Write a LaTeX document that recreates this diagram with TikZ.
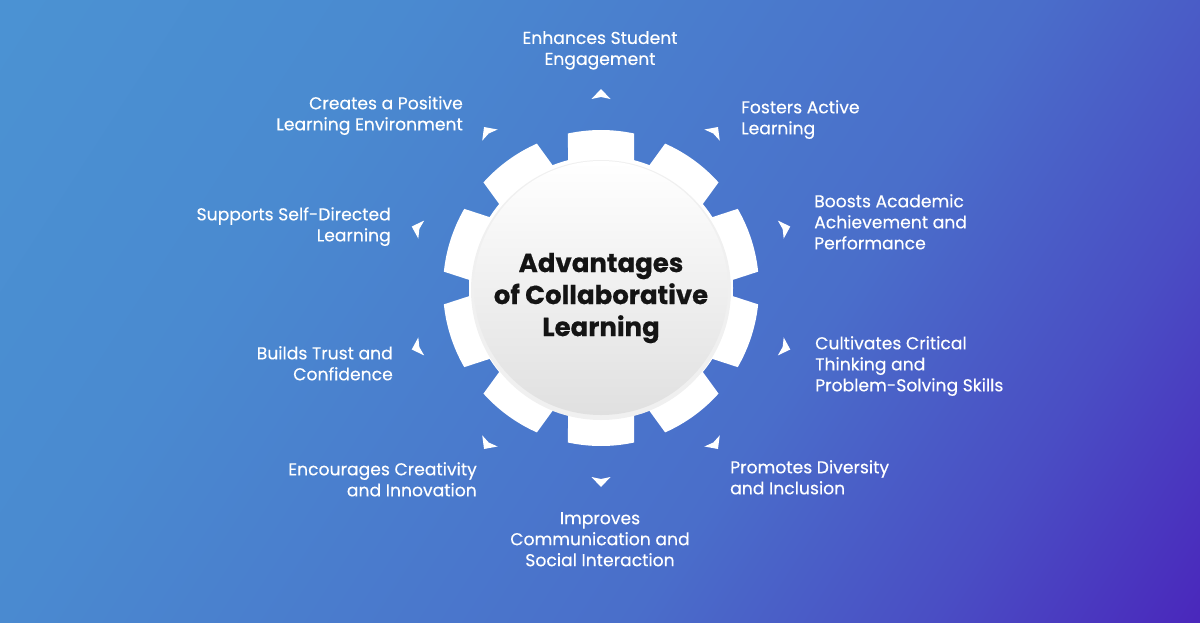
\documentclass[tikz,border=0pt]{standalone}
\usepackage{fontspec}
\setmainfont{Poppins}
\newfontfamily\benefitfont{Poppins}[FakeBold=0.3]
\newfontfamily\titlefont{Poppins}[BoldFeatures={FakeBold=0.5}]
\definecolor{bgLight}{HTML}{4B93D3}
\definecolor{bgSoft}{HTML}{4A8AD0}
\definecolor{bgMid}{HTML}{4A6ECA}
\definecolor{bgDeep}{HTML}{4A4EC4}
\definecolor{bgDark}{HTML}{4A28BC}
\definecolor{hubGray}{HTML}{E0E0E0}
\definecolor{titleInk}{HTML}{141414}
\pgfdeclareverticalshading{backdrop}{100bp}{color(0bp)=(bgDark); color(26bp)=(bgDark); color(34bp)=(bgDeep); color(43bp)=(bgMid); color(62bp)=(bgSoft); color(75bp)=(bgLight); color(100bp)=(bgLight)}
\tikzset{
  benefit/.style={text=white,inner sep=0pt,font=\benefitfont\fontsize{17.2}{21}\selectfont},
  heading/.style={text=titleInk,inner sep=0pt,align=center,font=\titlefont\fontsize{26}{32}\selectfont\bfseries},
  pointer/.style={fill=white},
  cog/.style={fill=white}
}
\begin{document}
\begin{tikzpicture}[x=1pt,y=1pt,line join=round]
	\useasboundingbox (0,0) rectangle (1200,-622);
	% background
	\begin{scope}
		\clip (0,0) rectangle (1200,-622);
		\shade[shading=backdrop,shading angle=57] (-100,389) rectangle (1300,-1011);
	\end{scope}
	% gear
	\coordinate (hub) at (601,-288);
	\begin{scope}[shift={(hub)}]
		\fill[cog] (0,0) circle (132);
		\foreach \k in {0,...,9}
			\fill[cog,rotate=90+36*\k] (120,-33) -- (-12.06:158) arc[start angle=-12.06,end angle=12.06,radius=158] -- (120,33) -- cycle;
		\fill[black,opacity=.06] (0,-2) circle (130);
		\shade[top color=white,bottom color=hubGray] (0,0) circle (127);
		\foreach \k in {0,...,9}
			\fill[pointer,rotate=90+36*\k] (199,0) -- (189,-9.5) -- (191,0) -- (189,9.5) -- cycle;
	\end{scope}
	\node[heading] (title) at (601,-298) {Advantages\\of Collaborative\\Learning};
	% benefits
	\node[benefit,align=center,anchor=north] (engage) at (600,-31) {Enhances Student\\Engagement};
	\node[benefit,align=left,anchor=north west] (active) at (741,-100) {Fosters Active\\Learning};
	\node[benefit,align=left,anchor=north west] (achieve) at (814,-194) {Boosts Academic\\Achievement and\\Performance};
	\node[benefit,align=left,anchor=north west] (critical) at (815,-336) {Cultivates Critical\\Thinking and\\Problem-Solving Skills};
	\node[benefit,align=left,anchor=north west] (divers) at (730,-460) {Promotes Diversity\\and Inclusion};
	\node[benefit,align=center,anchor=north] (commun) at (600,-512) {Improves\\Communication and\\Social Interaction};
	\node[benefit,align=right,anchor=north east] (create) at (477,-462) {Encourages Creativity\\and Innovation};
	\node[benefit,align=right,anchor=north east] (trust) at (393,-346) {Builds Trust and\\Confidence};
	\node[benefit,align=right,anchor=north east] (selfdir) at (391,-207) {Supports Self-Directed\\Learning};
	\node[benefit,align=right,anchor=north east] (positive) at (463,-96) {Creates a Positive\\Learning Environment};
\end{tikzpicture}
\end{document}
